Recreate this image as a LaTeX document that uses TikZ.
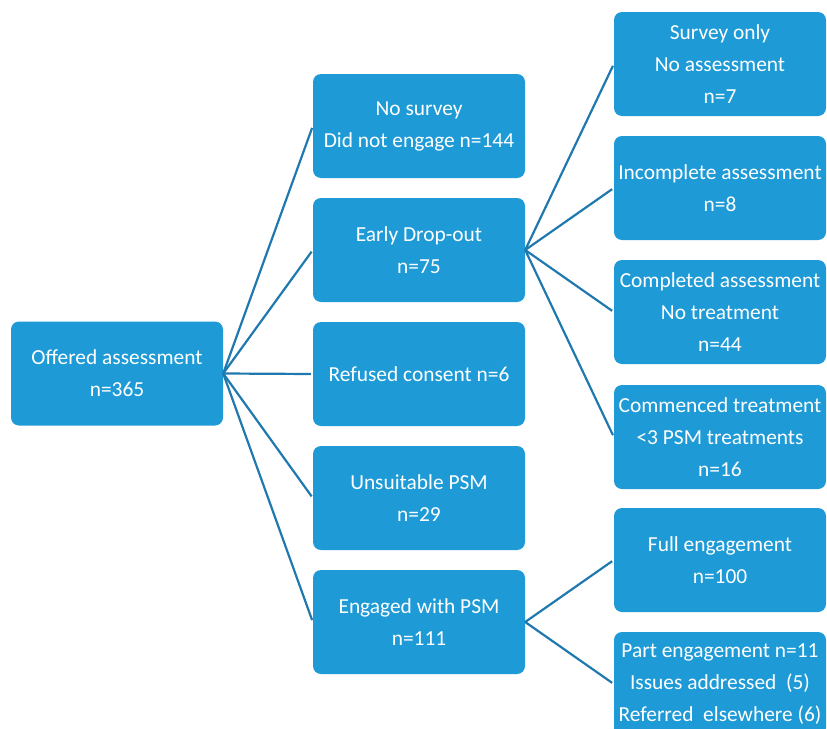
\documentclass[tikz,border=0pt]{standalone}
\usepackage{fontspec}
\setmainfont{Carlito}
\usepackage{tikz}

\definecolor{boxblue}{HTML}{1E9BD7}
\definecolor{lineblue}{HTML}{2079AE}

\begin{document}
\begin{tikzpicture}[x=1pt, y=-1pt,
    box/.style={rectangle, rounded corners=8pt, fill=boxblue, text=white, minimum width=212pt, minimum height=104pt, inner sep=0pt, align=center, font=\fontsize{21.4}{32}\selectfont},
    link/.style={draw=lineblue, line width=2.2pt, shorten >=2pt}]
        \useasboundingbox (0,0) rectangle (827,728);

        \node (offered) [box] at (117,373.5) {Offered assessment\\n=365};

        \node (nosurvey) [box] at (419,126) {No survey\\Did not engage n=144};
        \node (dropout) [box] at (419,250) {Early Drop-out\\n=75};
        \node (refused) [box] at (419,374) {Refused consent n=6};
        \node (unsuitable) [box] at (419,498) {Unsuitable PSM\\n=29};
        \node (engaged) [box] at (419,622) {Engaged with PSM\\n=111};

        \node (surveyonly) [box] at (720,64) {Survey only\\No assessment\\n=7};
        \node (incomplete) [box] at (720,188) {Incomplete assessment\\n=8};
        \node (completed) [box] at (720,312) {Completed assessment\\No treatment\\n=44};
        \node (commenced) [box] at (720,437) {Commenced treatment\\<3 PSM treatments\\n=16};
        \node (full) [box] at (720,560) {Full engagement\\n=100};
        \node (part) [box] at (720,684) {Part engagement n=11\\Issues addressed~~(5)\\Referred~~elsewhere (6)};

        \draw [link] (offered.east) -- (nosurvey.west);
        \draw [link] (offered.east) -- (dropout.west);
        \draw [link] (offered.east) -- (refused.west);
        \draw [link] (offered.east) -- (unsuitable.west);
        \draw [link] (offered.east) -- (engaged.west);

        \draw [link] (dropout.east) -- (surveyonly.west);
        \draw [link] (dropout.east) -- (incomplete.west);
        \draw [link] (dropout.east) -- (completed.west);
        \draw [link] (dropout.east) -- (commenced.west);

        \draw [link] (engaged.east) -- (full.west);
        \draw [link] (engaged.east) -- (part.west);
    \end{tikzpicture}
\end{document}
